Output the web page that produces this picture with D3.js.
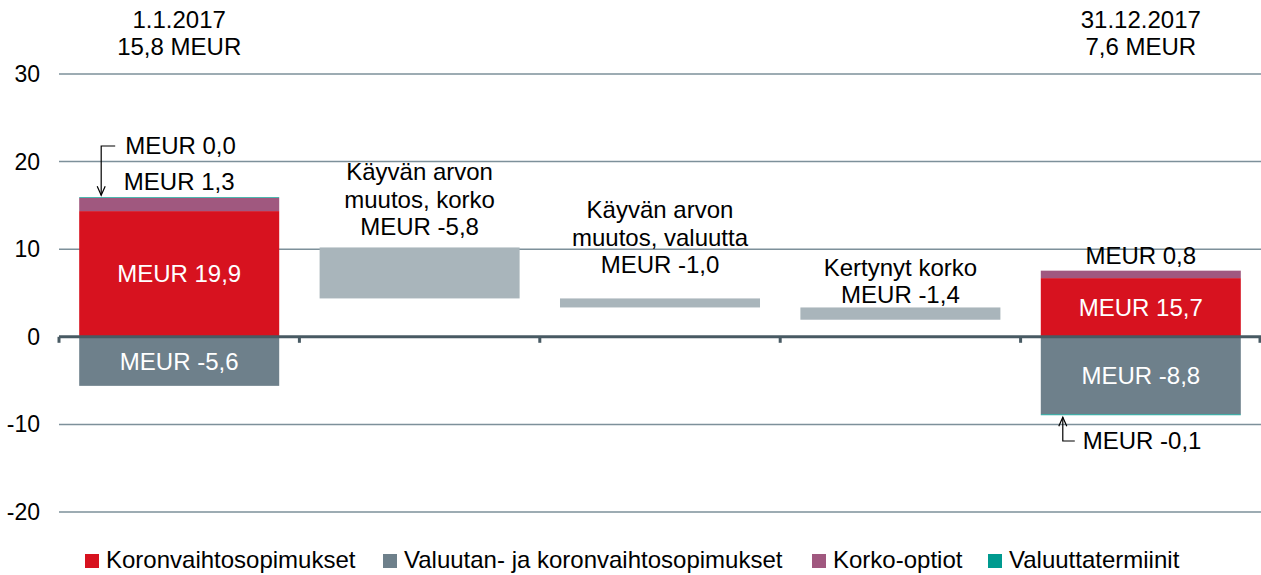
<!DOCTYPE html>
<html>
<head>
<meta charset="utf-8">
<script src="https://cdn.jsdelivr.net/npm/d3@7"></script>
<style>
  html, body { margin: 0; padding: 0; background: #fff; }
  svg { display: block; font-family: "Liberation Sans", Arial, sans-serif; }
</style>
</head>
<body>
<svg id="chart" width="1261" height="575"></svg>
<script>
// ---- data ----
const categories = ["1.1.2017", "Käyvän arvon muutos, korko", "Käyvän arvon muutos, valuutta", "Kertynyt korko", "31.12.2017"];
// stacked (drawn) values for the start and end bars
const koronvaihtosopimukset = [14.35, null, null, null, 6.7];
const valuutanJaKoronvaihto = [-5.6, null, null, null, -8.85];
const korkoOptiot = [1.5, null, null, null, 0.85];
const valuuttatermiinit = [0.08, null, null, null, -0.1];
// waterfall change bars (from, to)
const changeFrom = [null, 10.2, 4.38, 3.35, null];
const changeTo = [null, 4.38, 3.35, 1.95, null];
const yTicks = [-20, -10, 0, 10, 20, 30];
const legendLabels = ["Koronvaihtosopimukset", "Valuutan- ja koronvaihtosopimukset", "Korko-optiot", "Valuuttatermiinit"];
const headerLabels = [["1.1.2017", "15,8 MEUR"], null, null, null, ["31.12.2017", "7,6 MEUR"]];
const changeLabels = [null, ["Käyvän arvon", "muutos, korko", "MEUR -5,8"], ["Käyvän arvon", "muutos, valuutta", "MEUR -1,0"], ["Kertynyt korko", "MEUR -1,4"], null];
const innerLabels = { red: ["MEUR 19,9", null, null, null, "MEUR 15,7"], grey: ["MEUR -5,6", null, null, null, "MEUR -8,8"] };
const topLabels = ["MEUR 1,3", null, null, null, "MEUR 0,8"];
const calloutLabels = ["MEUR 0,0", null, null, null, "MEUR -0,1"];

// ---- layout / styles ----
const changeLabelGap = [0, 12, 25, 4, 0]; // px between last label baseline and bar top
const colors = { red: "#d7121f", grey: "#6e808b", purple: "#a0587f", teal: "#009a8f", change: "#a9b5bb" };
const W = 1261, H = 575;
const svg = d3.select("#chart");

const x = d3.scaleBand().domain(categories).range([59, 1261]).paddingInner(0.168).paddingOuter(0.084);
const y = d3.scaleLinear().domain([-20, 30]).range([512, 74]);

// gridlines
svg.append("g").selectAll("line").data(yTicks.filter(d => d !== 0)).join("line")
  .attr("x1", 59).attr("x2", W).attr("y1", d => y(d)).attr("y2", d => y(d))
  .attr("stroke", "#7d909a").attr("stroke-width", 1.5);

// y labels
svg.append("g").selectAll("text").data(yTicks).join("text")
  .attr("x", 40).attr("y", d => y(d)).attr("dy", "0.35em").attr("text-anchor", "end")
  .attr("font-size", 23).attr("fill", "#000").text(d => d);

// stacked bars
const stackRows = categories.map((c, i) => ({ c, red: koronvaihtosopimukset[i], grey: valuutanJaKoronvaihto[i], purple: korkoOptiot[i], teal: valuuttatermiinit[i] }))
  .filter(r => r.red !== null);
const segs = [];
stackRows.forEach(r => {
  let pos = 0, neg = 0;
  ["red", "grey", "purple", "teal"].forEach(k => {
    const v = r[k];
    if (v >= 0) { segs.push({ c: r.c, k, y0: pos, y1: pos + v }); pos += v; }
    else { segs.push({ c: r.c, k, y0: neg, y1: neg + v }); neg += v; }
  });
});
svg.append("g").selectAll("rect").data(segs).join("rect")
  .attr("x", d => x(d.c)).attr("width", x.bandwidth())
  .attr("y", d => y(Math.max(d.y0, d.y1))).attr("height", d => Math.abs(y(d.y0) - y(d.y1)))
  .attr("fill", d => colors[d.k]);

// change bars
const changeRows = categories.map((c, i) => ({ c, a: changeFrom[i], b: changeTo[i] })).filter(r => r.a !== null);
svg.append("g").selectAll("rect").data(changeRows).join("rect")
  .attr("x", d => x(d.c)).attr("width", x.bandwidth())
  .attr("y", d => y(Math.max(d.a, d.b))).attr("height", d => Math.abs(y(d.a) - y(d.b)))
  .attr("fill", colors.change);

// zero axis
svg.append("line").attr("x1", 59).attr("x2", W).attr("y1", y(0)).attr("y2", y(0))
  .attr("stroke", "#485a63").attr("stroke-width", 3);
const tickXs = d3.range(categories.length + 1).map(i => 59 + i * x.step());
svg.append("g").selectAll("line").data(tickXs).join("line")
  .attr("x1", d => Math.min(d, W - 1)).attr("x2", d => Math.min(d, W - 1))
  .attr("y1", y(0)).attr("y2", y(0) + 6)
  .attr("stroke", "#485a63").attr("stroke-width", 3);

const cx = c => x(c) + x.bandwidth() / 2;
const fs = 24;

// header labels
categories.forEach((c, i) => {
  const h = headerLabels[i];
  if (!h) return;
  svg.append("text").attr("x", cx(c)).attr("y", 28).attr("text-anchor", "middle").attr("font-size", fs).text(h[0]);
  svg.append("text").attr("x", cx(c)).attr("y", 55).attr("text-anchor", "middle").attr("font-size", fs).text(h[1]);
});

// change labels (above the bars)
categories.forEach((c, i) => {
  const lines = changeLabels[i];
  if (!lines) return;
  const top = y(Math.max(changeFrom[i], changeTo[i]));
  lines.forEach((t, j) => {
    svg.append("text").attr("x", cx(c)).attr("y", top - changeLabelGap[i] - (lines.length - 1 - j) * 27.5)
      .attr("text-anchor", "middle").attr("font-size", fs).text(t);
  });
});

// inner labels
stackRows.forEach(r => {
  const i = categories.indexOf(r.c);
  svg.append("text").attr("x", cx(r.c)).attr("y", y(r.red / 2)).attr("dy", "0.35em")
    .attr("text-anchor", "middle").attr("font-size", fs).attr("fill", "#fff").text(innerLabels.red[i]);
  svg.append("text").attr("x", cx(r.c)).attr("y", y(r.grey / 2)).attr("dy", "0.35em")
    .attr("text-anchor", "middle").attr("font-size", fs).attr("fill", "#fff").text(innerLabels.grey[i]);
  const top = r.red + r.purple + Math.max(r.teal, 0);
  svg.append("text").attr("x", cx(r.c)).attr("y", y(top) - 7)
    .attr("text-anchor", "middle").attr("font-size", fs).text(topLabels[i]);
});

// callouts with arrows
const arrow = (pts, tip, dir) => {
  svg.append("path").attr("d", d3.line()(pts)).attr("fill", "none").attr("stroke", "#000").attr("stroke-width", 1.2);
  const [tx, ty] = tip;
  const s = dir === "down" ? -1 : 1;
  svg.append("path").attr("d", d3.line()([[tx - 4, ty + s * 9], [tx, ty], [tx + 4, ty + s * 9]]))
    .attr("fill", "none").attr("stroke", "#000").attr("stroke-width", 1.2);
};
{
  const c = categories[0];
  const topY = y(koronvaihtosopimukset[0] + korkoOptiot[0] + valuuttatermiinit[0]);
  const ax = x(c) + 22;
  arrow([[ax + 14, 146], [ax, 146], [ax, topY - 2]], [ax, topY - 2], "down");
  svg.append("text").attr("x", ax + 24).attr("y", 146).attr("dy", "0.35em").attr("font-size", fs).text(calloutLabels[0]);
}
{
  const c = categories[4];
  const botY = y(valuutanJaKoronvaihto[4] + valuuttatermiinit[4]);
  const ax = x(c) + 22;
  arrow([[ax + 12, 441], [ax, 441], [ax, botY + 2]], [ax, botY + 2], "up");
  svg.append("text").attr("x", ax + 20).attr("y", 441).attr("dy", "0.35em").attr("font-size", fs).text(calloutLabels[4]);
}

// legend
const legendX = [85, 383, 812, 988];
const lg = svg.append("g");
legendLabels.forEach((t, i) => {
  const k = ["red", "grey", "purple", "teal"][i];
  lg.append("rect").attr("x", legendX[i]).attr("y", 554).attr("width", 14).attr("height", 14).attr("fill", colors[k]);
  lg.append("text").attr("x", legendX[i] + 21).attr("y", 568).attr("font-size", 24).text(t);
});
</script>
</body>
</html>
